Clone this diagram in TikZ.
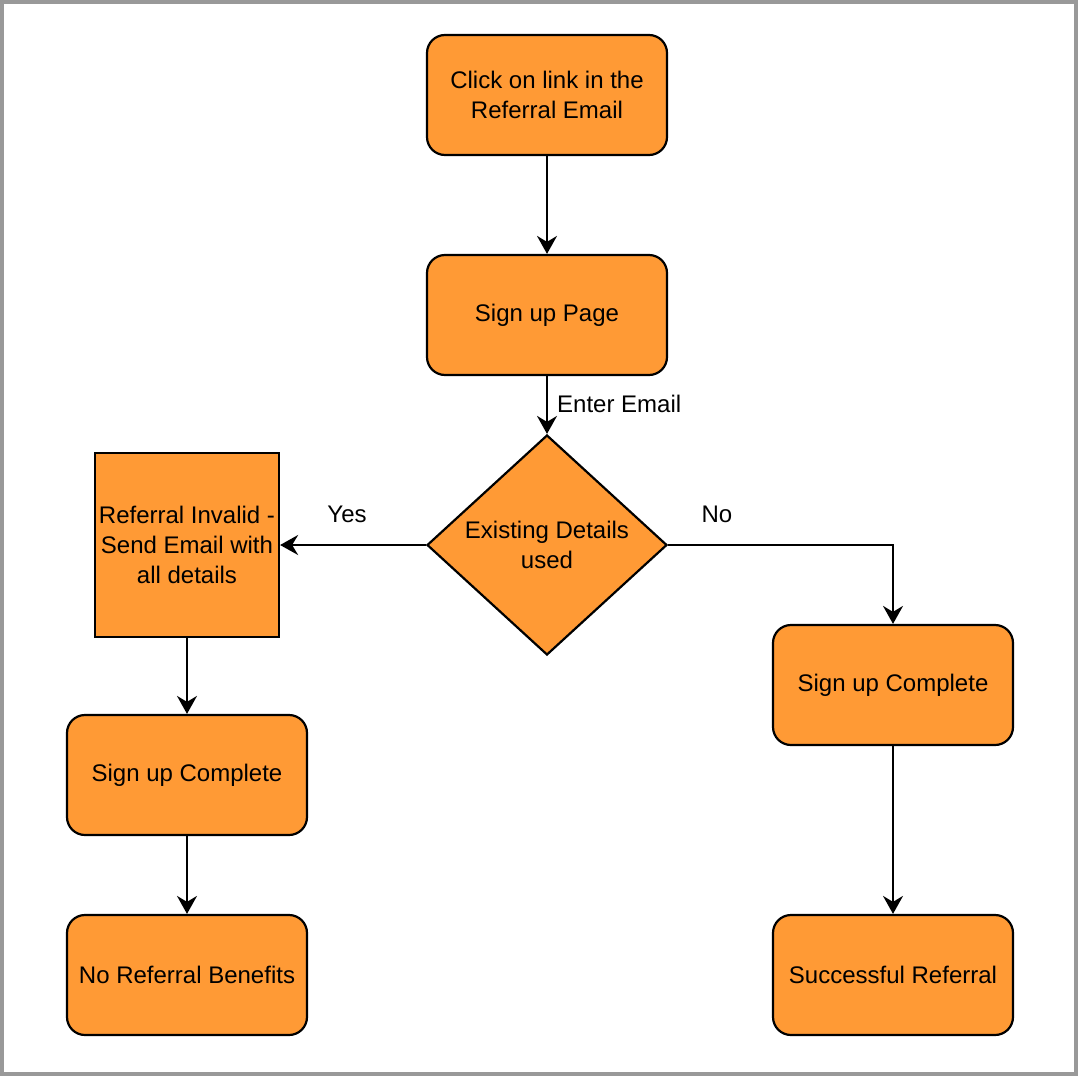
\documentclass[tikz,border=0pt]{standalone}
\usepackage{fontspec}
\setmainfont{Liberation Sans}
\usetikzlibrary{arrows.meta,shapes.geometric}
\definecolor{boxfill}{HTML}{FF9A35}
\definecolor{frame}{HTML}{999999}
\begin{document}
\begin{tikzpicture}[x=1pt,y=-1pt,
  every node/.style={font=\fontsize{24}{30}\selectfont},
  shp/.style={draw=black, line width=2.2pt, fill=boxfill, align=center, inner sep=0pt},
  rbox/.style={shp, rounded corners=18pt, minimum width=240pt, minimum height=120pt},
  sbox/.style={shp, minimum width=184pt, minimum height=184pt},
  dbox/.style={shp, diamond, minimum width=240pt, minimum height=220pt},
  conn/.style={line width=2.2pt, -{Stealth[length=18pt,width=20pt,inset=6pt]}},
  lbl/.style={inner sep=0pt}
]
\useasboundingbox (0,0) rectangle (1078,1076);
\fill[white] (0,0) rectangle (1078,1076);
\draw[frame, line width=4pt] (2,2) rectangle (1076,1074);

\node[rbox] (click) at (547,95) {Click on link in the\\Referral Email};
\node[rbox] (signup) at (547,315) {Sign up Page};
\node[dbox] (dec) at (547,545) {Existing Details\\used};
\node[sbox] (invalid) at (187,545) {Referral Invalid -\\Send Email with\\all details};
\node[rbox] (scl) at (187,775) {Sign up Complete};
\node[rbox] (nrb) at (187,975) {No Referral Benefits};
\node[rbox] (scr) at (893,685) {Sign up Complete};
\node[rbox] (succ) at (893,975) {Successful Referral};

\draw[conn] (click) -- (signup);
\draw[conn] (signup) -- (dec.north);
\draw[conn] (dec.west) -- (invalid);
\draw[conn] (dec.east) -| (scr);
\draw[conn] (invalid) -- (scl);
\draw[conn] (scl) -- (nrb);
\draw[conn] (scr) -- (succ);

\node[lbl, anchor=west] (l1) at (557,404) {Enter Email};
\node[lbl] (l2) at (347,514) {Yes};
\node[lbl] (l3) at (717,514) {No};
\end{tikzpicture}
\end{document}
